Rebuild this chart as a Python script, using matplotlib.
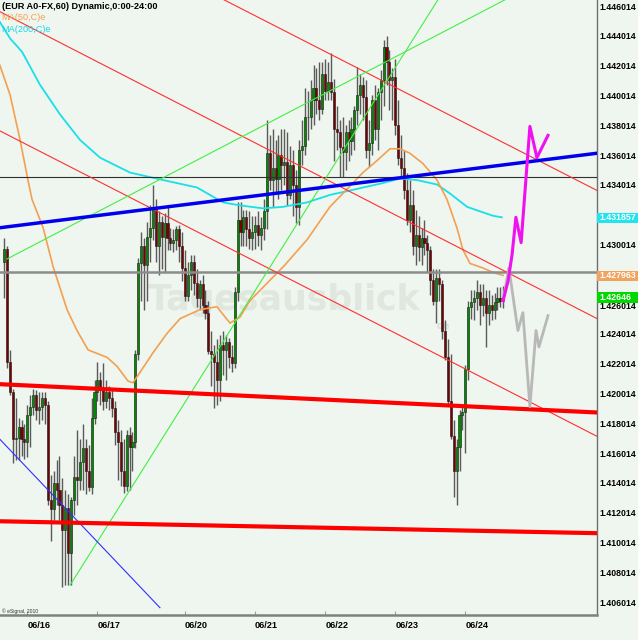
import matplotlib
matplotlib.use("Agg")

import matplotlib.pyplot as plt
from matplotlib.patches import Rectangle
import numpy as np

# EUR/USD hourly candles, bar index = hours from chart start
open0 = 1.4289
close = [1.4298, 1.4222, 1.4202, 1.4170, 1.4171, 1.4178, 1.4170, 1.4168, 1.4186, 1.4192,
         1.4200, 1.4190, 1.4192, 1.4198, 1.4193, 1.4129, 1.4123, 1.4141, 1.4136, 1.4126,
         1.4109, 1.4124, 1.4094, 1.4129, 1.4145, 1.4143, 1.4155, 1.4164, 1.4149, 1.4138,
         1.4184, 1.4202, 1.4210, 1.4203, 1.4196, 1.4202, 1.4198, 1.4191, 1.4175, 1.4168,
         1.4149, 1.4139, 1.4173, 1.4165, 1.4168, 1.4227, 1.4288, 1.4300, 1.4287, 1.4306,
         1.4312, 1.4325, 1.4300, 1.4316, 1.4306, 1.4315, 1.4305, 1.4302, 1.4304, 1.4311,
         1.4300, 1.4285, 1.4266, 1.4280, 1.4289, 1.4275, 1.4265, 1.4274, 1.4260, 1.4255,
         1.4229, 1.4227, 1.4222, 1.4210, 1.4233, 1.4230, 1.4235, 1.4225, 1.4221, 1.4269,
         1.4317, 1.4309, 1.4319, 1.4311, 1.4305, 1.4309, 1.4314, 1.4307, 1.4312, 1.4323,
         1.4362, 1.4344, 1.4352, 1.4345, 1.4361, 1.4354, 1.4356, 1.4334, 1.4354, 1.4341,
         1.4326, 1.4364, 1.4367, 1.4386, 1.4386, 1.4398, 1.4406, 1.4398, 1.4392, 1.4415,
         1.4404, 1.4410, 1.4403, 1.4378, 1.4376, 1.4366, 1.4363, 1.4376, 1.4370, 1.4378,
         1.4391, 1.4401, 1.4408, 1.4400, 1.4364, 1.4369, 1.4398, 1.4378, 1.4403, 1.4411,
         1.4433, 1.4423, 1.4411, 1.4413, 1.4381, 1.4359, 1.4352, 1.4337, 1.4317, 1.4327,
         1.4300, 1.4307, 1.4299, 1.4305, 1.4302, 1.4297, 1.4277, 1.4263, 1.4278, 1.4274,
         1.4243, 1.4225, 1.4196, 1.4172, 1.4149, 1.4165, 1.4186, 1.4188, 1.4217, 1.4259,
         1.4262, 1.4265, 1.4269, 1.4260, 1.4265, 1.4255, 1.4260, 1.4257, 1.4262, 1.4265,
         1.4263, 1.4265]
high = [1.4305, 1.4300, 1.4230, 1.4204, 1.4198, 1.4184, 1.4183, 1.4180, 1.4193, 1.4200,
        1.4204, 1.4203, 1.4202, 1.4202, 1.4202, 1.4196, 1.4146, 1.4149, 1.4156, 1.4159,
        1.4144, 1.4136, 1.4133, 1.4131, 1.4159, 1.4176, 1.4170, 1.4180, 1.4170, 1.4166,
        1.4198, 1.4210, 1.4222, 1.4215, 1.4221, 1.4210, 1.4206, 1.4204, 1.4196, 1.4183,
        1.4176, 1.4170, 1.4176, 1.4178, 1.4175, 1.4230, 1.4292, 1.4309, 1.4305, 1.4316,
        1.4327, 1.4341, 1.4331, 1.4323, 1.4320, 1.4322, 1.4327, 1.4312, 1.4311, 1.4313,
        1.4314, 1.4309, 1.4297, 1.4289, 1.4294, 1.4294, 1.4284, 1.4277, 1.4280, 1.4270,
        1.4263, 1.4243, 1.4233, 1.4237, 1.4240, 1.4243, 1.4240, 1.4238, 1.4233, 1.4272,
        1.4329, 1.4329, 1.4324, 1.4324, 1.4323, 1.4320, 1.4320, 1.4323, 1.4319, 1.4331,
        1.4384, 1.4374, 1.4378, 1.4371, 1.4374, 1.4378, 1.4378, 1.4376, 1.4367, 1.4364,
        1.4351, 1.4371, 1.4384, 1.4406, 1.4404, 1.4411, 1.4421, 1.4419, 1.4423, 1.4423,
        1.4425, 1.4423, 1.4429, 1.4412, 1.4394, 1.4384, 1.4386, 1.4381, 1.4384, 1.4386,
        1.4394, 1.4420, 1.4415, 1.4413, 1.4411, 1.4384, 1.4401, 1.4408, 1.4406, 1.4418,
        1.4438, 1.4441, 1.4431, 1.4419, 1.4425, 1.4398, 1.4374, 1.4364, 1.4349, 1.4344,
        1.4337, 1.4324, 1.4320, 1.4312, 1.4317, 1.4307, 1.4300, 1.4284, 1.4284, 1.4284,
        1.4277, 1.4250, 1.4237, 1.4227, 1.4183, 1.4170, 1.4190, 1.4193, 1.4220, 1.4263,
        1.4270, 1.4270, 1.4277, 1.4274, 1.4274, 1.4270, 1.4270, 1.4267, 1.4268, 1.4272,
        1.4272, 1.4273]
low = [1.4265, 1.4218, 1.4200, 1.4154, 1.4156, 1.4156, 1.4159, 1.4157, 1.4158, 1.4165,
       1.4186, 1.4183, 1.4180, 1.4183, 1.4180, 1.4126, 1.4102, 1.4116, 1.4126, 1.4116,
       1.4071, 1.4072, 1.4072, 1.4072, 1.4119, 1.4126, 1.4136, 1.4136, 1.4133, 1.4135,
       1.4133, 1.4180, 1.4196, 1.4193, 1.4190, 1.4191, 1.4190, 1.4185, 1.4166, 1.4143,
       1.4139, 1.4134, 1.4135, 1.4136, 1.4149, 1.4164, 1.4223, 1.4263, 1.4257, 1.4263,
       1.4289, 1.4304, 1.4289, 1.4280, 1.4284, 1.4282, 1.4297, 1.4297, 1.4296, 1.4297,
       1.4289, 1.4276, 1.4263, 1.4263, 1.4270, 1.4267, 1.4259, 1.4257, 1.4255, 1.4251,
       1.4227, 1.4206, 1.4191, 1.4193, 1.4196, 1.4213, 1.4210, 1.4218, 1.4215, 1.4218,
       1.4263, 1.4300, 1.4300, 1.4300, 1.4298, 1.4297, 1.4298, 1.4300, 1.4297, 1.4304,
       1.4311, 1.4337, 1.4326, 1.4335, 1.4331, 1.4337, 1.4341, 1.4327, 1.4331, 1.4320,
       1.4315, 1.4314, 1.4354, 1.4361, 1.4371, 1.4378, 1.4381, 1.4388, 1.4384, 1.4388,
       1.4398, 1.4398, 1.4398, 1.4357, 1.4364, 1.4346, 1.4346, 1.4351, 1.4357, 1.4361,
       1.4364, 1.4381, 1.4388, 1.4384, 1.4359, 1.4353, 1.4361, 1.4371, 1.4364, 1.4384,
       1.4394, 1.4408, 1.4391, 1.4384, 1.4374, 1.4354, 1.4347, 1.4331, 1.4314, 1.4309,
       1.4294, 1.4287, 1.4290, 1.4287, 1.4294, 1.4282, 1.4267, 1.4260, 1.4248, 1.4263,
       1.4237, 1.4223, 1.4193, 1.4170, 1.4131, 1.4126, 1.4149, 1.4176, 1.4161, 1.4210,
       1.4251, 1.4250, 1.4257, 1.4247, 1.4253, 1.4232, 1.4247, 1.4250, 1.4251, 1.4257,
       1.4259, 1.4258]

day_labels = ["06/16", "06/17", "06/20", "06/21", "06/22", "06/23", "06/24"]
day_bars = [8, 32, 62, 86, 110, 134, 158]

# moving averages
ma50_x = [-1.4, 2.1, 5.5, 8.2, 9.6, 13.4, 16.8, 21.6, 25.0, 28.8, 35.3, 38.7, 42.5, 44.2,
          46.6, 51.0, 55.8, 60.3, 67.1, 72.9, 77.4, 80.8, 84.2, 87.7, 96.2, 103.8, 111.6,
          118.5, 122.9, 127.7, 132.2, 135.6, 139.0, 143.5, 148.3, 151.7, 155.1, 157.2,
          159.6, 164.0, 167.5, 170.9]
ma50_y = [1.4421, 1.4401, 1.4371, 1.4344, 1.4331, 1.4312, 1.4286, 1.4257, 1.4243, 1.4230,
          1.4225, 1.4219, 1.4209, 1.4208, 1.4215, 1.4228, 1.4241, 1.4251, 1.4257, 1.4259,
          1.4248, 1.4252, 1.4263, 1.4270, 1.4287, 1.4304, 1.4326, 1.4340, 1.4349, 1.4357,
          1.4365, 1.4365, 1.4362, 1.4355, 1.4344, 1.4331, 1.4312, 1.4297, 1.4288, 1.4285,
          1.4282, 1.4280]
ma200_x = [-1.4, 2.1, 6.2, 12.3, 19.2, 26.0, 32.9, 43.2, 54.5, 66.1, 75.0, 80.8, 88.7,
           95.5, 103.8, 111.6, 118.5, 129.8, 135.6, 141.4, 148.3, 152.7, 158.6, 163.0,
           167.5, 170.5]
ma200_y = [1.4450, 1.4439, 1.4430, 1.4408, 1.4388, 1.4371, 1.4359, 1.4349, 1.4344, 1.4339,
           1.4329, 1.4327, 1.4325, 1.4326, 1.4329, 1.4334, 1.4337, 1.4342, 1.4345, 1.4344,
           1.4341, 1.4335, 1.4326, 1.4323, 1.4320, 1.4319]

# projected paths
proj_up_x = [170.9, 172.6, 174.0, 175.3, 177.1, 179.1, 180.1, 182.5, 186.3]
proj_up_y = [1.4263, 1.4276, 1.4294, 1.4319, 1.4302, 1.4354, 1.4380, 1.4359, 1.4374]
proj_dn_x = [170.9, 172.9, 176.0, 177.7, 180.1, 182.2, 183.2, 186.3]
proj_dn_y = [1.4263, 1.4285, 1.4243, 1.4255, 1.4192, 1.4243, 1.4232, 1.4253]

# drawn trendlines (x0, x1), (y0, y1)
hline_black = 1.4346
hline_gray = 1.4282
thick_blue = ([-1.4, 203.1], [1.4312, 1.4362])
thick_red = [([-1.4, 203.1], [1.4207, 1.4188]),
             ([-1.4, 203.1], [1.4115, 1.4107])]
thin_red = [([-1.4, 203.1], [1.4457, 1.4251]),
            ([75.3, 203.1], [1.4465, 1.4337]),
            ([-1.4, 203.1], [1.4377, 1.4172])]
thin_green = [([1.0, 171.6], [1.4291, 1.4465]),
              ([22.6, 148.6], [1.4072, 1.4465])]
thin_blue = ([-1.4, 53.4], [1.4170, 1.4057])

# price scale (1.432014 and 1.428014 sit under the value boxes)
axis_labels = ["1.446014", "1.444014", "1.442014", "1.440014", "1.438014", "1.436014",
               "1.434014", "1.430014", "1.426014", "1.424014",
               "1.422014", "1.420014", "1.418014", "1.416014", "1.414014", "1.412014",
               "1.410014", "1.408014", "1.406014"]
markers = [("1.431857", 1.431857, "#22e4ee"),
           ("1.427963", 1.427963, "#f2a35c"),
           ("1.42646", 1.42652, "#00d800")]

bg = "#eff5ef"
fig = plt.figure(figsize=(6.38, 6.40), dpi=100, facecolor=bg)
ax = fig.add_axes([0, 25 / 640, 597 / 638, 615 / 640], facecolor=bg)
ax.set_xlim(-1.37, 203.08)
ax.set_ylim(1.405209, 1.446484)

# watermark
ax.text(96, 1.4257, "Tagesausblick", fontsize=25, fontweight="bold", color="#dfe7df",
        ha="center", va="baseline", family="DejaVu Sans", zorder=0.5)
ax.text(148, 1.4244, "de", fontsize=7, fontweight="bold", color="#d8e0d8",
        ha="left", va="baseline", zorder=0.5)

# candles
close = np.array(close)
opn = np.r_[open0, close[:-1]]
high = np.maximum(np.array(high), np.maximum(opn, close))
low = np.minimum(np.array(low), np.minimum(opn, close))
idx = np.arange(len(close))
up = close >= opn
ax.vlines(idx, low, high, color="#5a5a5a", lw=1.0, zorder=3)
ax.bar(idx, np.maximum(np.abs(close - opn), 0.00006), bottom=np.minimum(opn, close),
       width=0.72, color=np.where(up, "#008a00", "#7d0000"),
       edgecolor="#1a1a1a", linewidth=0.4, zorder=4)

# averages
ax.plot(ma200_x, ma200_y, color="#18e0e8", lw=1.3, zorder=5)
ax.plot(ma50_x, ma50_y, color="#f4a050", lw=1.2, zorder=5)

# trendlines
ax.axhline(hline_black, color="#303030", lw=0.8, zorder=6)
ax.axhline(hline_gray, color="#8c8c8c", lw=1.8, zorder=6)
for xs, ys in thin_red:
    ax.plot(xs, ys, color="#ff3030", lw=0.8, zorder=6)
for xs, ys in thin_green:
    ax.plot(xs, ys, color="#44ee44", lw=0.8, zorder=6)
ax.plot(*thin_blue, color="#3030ff", lw=0.8, zorder=6)
for xs, ys in thick_red:
    ax.plot(xs, ys, color="#ff0000", lw=3.0, zorder=7)
ax.plot(*thick_blue, color="#0000ee", lw=2.5, zorder=7)

# projections
ax.plot(proj_dn_x, proj_dn_y, color="#b8b8b8", lw=2.0, zorder=8)
ax.plot(proj_up_x, proj_up_y, color="#f010f0", lw=2.2, zorder=9)

# axes frame
for s in ["top", "left"]:
    ax.spines[s].set_visible(False)
ax.spines["bottom"].set_color("#808080")
ax.spines["bottom"].set_linewidth(1.8)
ax.spines["right"].set_color("#707070")
ax.spines["right"].set_linewidth(1.0)
ax.set_yticks([])
ax.set_xticks(day_bars)
ax.set_xticklabels(day_labels, ha="left", fontweight="bold", fontsize=6.6,
                   family="Liberation Sans")
ax.tick_params(axis="x", direction="in", length=3, color="#a0a0a0", pad=4)

# right price scale
ytr = ax.get_yaxis_transform()
for lab in axis_labels:
    yv = float(lab)
    if lab == "1.426014":
        yv -= 0.00012  # peeks out below the green box
    ax.text(1.004, yv, lab, transform=ytr, fontsize=6.3, fontweight="bold",
            family="Liberation Sans", ha="left", va="center", clip_on=False)
for lab, val, col in markers:
    ax.add_patch(Rectangle((1.0, val - 0.00036), 0.069, 0.00072, transform=ytr,
                           facecolor=col, edgecolor="none", clip_on=False, zorder=10))
    ax.text(1.004, val, lab, transform=ytr, fontsize=6.3, fontweight="bold", color="white",
            family="Liberation Sans", ha="left", va="center", clip_on=False, zorder=11)

# header texts
fig.text(2 / 638, 1 - 2 / 640, "(EUR A0-FX,60) Dynamic,0:00-24:00", fontsize=6.6,
         fontweight="bold", family="Liberation Sans", va="top", ha="left")
fig.text(1 / 638, 1 - 17 / 640, "MA(50,C)e", fontsize=6.6, color="#f4a050",
         family="Liberation Sans", va="center", ha="left")
fig.text(1 / 638, 1 - 29 / 640, "MA(200,C)e", fontsize=6.6, color="#18d8e8",
         family="Liberation Sans", va="center", ha="left")
fig.text(2 / 638, 1 - 611 / 640, "\u00a9 eSignal, 2010", fontsize=3.6, color="#333333",
         family="Liberation Sans", va="center", ha="left")

fig.savefig("out.png", dpi=100, facecolor=bg)
plt.close(fig)
